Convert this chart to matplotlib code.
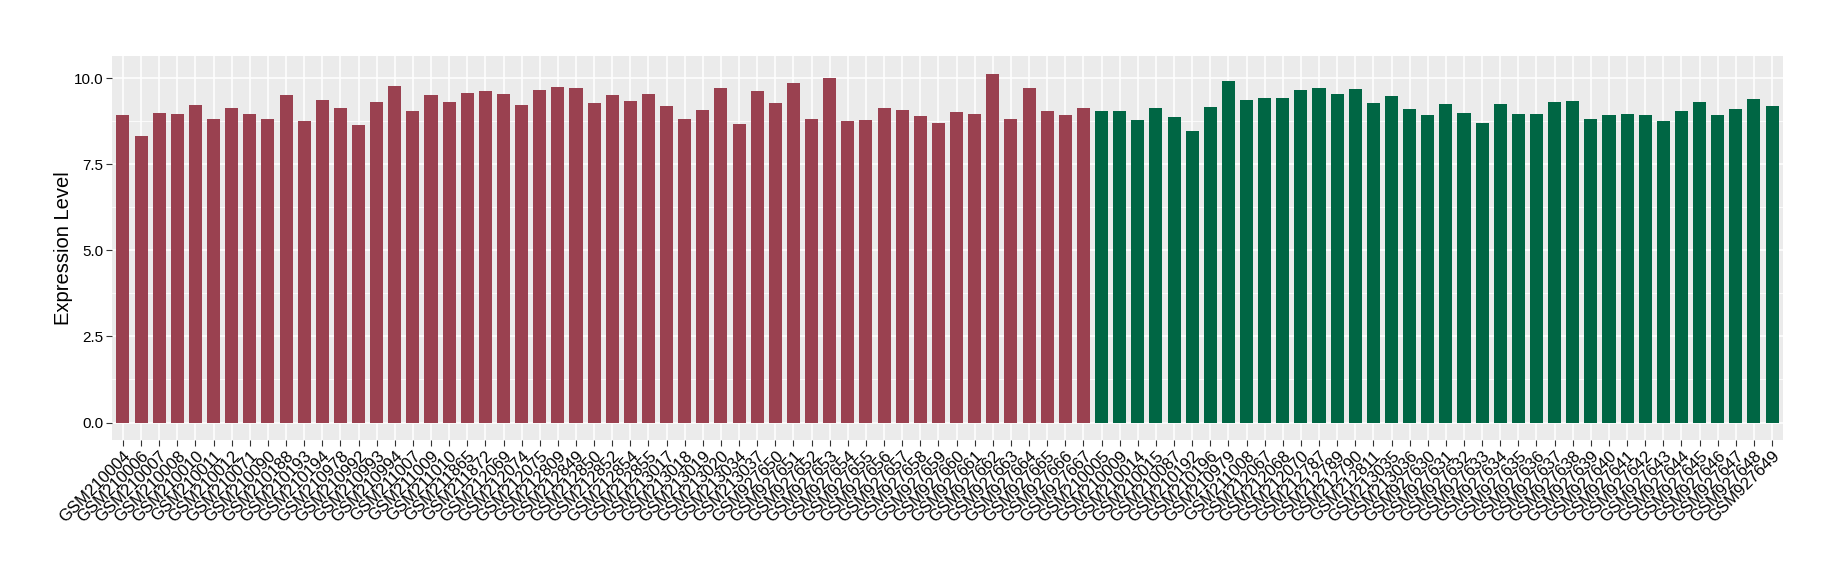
import matplotlib
matplotlib.use("Agg")
import matplotlib.pyplot as plt
import numpy as np

# 	Data

red_samples = ["GSM210004", "GSM210006", "GSM210007", "GSM210008", "GSM210010", "GSM210011",
               "GSM210012", "GSM210071", "GSM210090", "GSM210188", "GSM210193", "GSM210194",
               "GSM210978", "GSM210992", "GSM210993", "GSM210994", "GSM211007", "GSM211009",
               "GSM211010", "GSM211865", "GSM211872", "GSM212069", "GSM212074", "GSM212075",
               "GSM212809", "GSM212849", "GSM212850", "GSM212852", "GSM212854", "GSM212855",
               "GSM213017", "GSM213018", "GSM213019", "GSM213020", "GSM213034", "GSM213037",
               "GSM927650", "GSM927651", "GSM927652", "GSM927653", "GSM927654", "GSM927655",
               "GSM927656", "GSM927657", "GSM927658", "GSM927659", "GSM927660", "GSM927661",
               "GSM927662", "GSM927663", "GSM927664", "GSM927665", "GSM927666", "GSM927667"]
red_values = [8.94, 8.33, 8.99, 8.96, 9.23, 8.82, 9.14, 8.96, 8.82, 9.52, 8.76, 9.37,
              9.14, 8.64, 9.31, 9.78, 9.05, 9.52, 9.31, 9.57, 9.63, 9.55, 9.23, 9.66,
              9.75, 9.72, 9.28, 9.52, 9.34, 9.55, 9.20, 8.82, 9.08, 9.72, 8.67, 9.63,
              9.28, 9.86, 8.82, 10.01, 8.76, 8.79, 9.14, 9.08, 8.91, 8.70, 9.02, 8.96,
              10.13, 8.82, 9.72, 9.05, 8.94, 9.14]

green_samples = ["GSM210005", "GSM210009", "GSM210014", "GSM210015", "GSM210087", "GSM210192",
                 "GSM210196", "GSM210979", "GSM211008", "GSM212067", "GSM212068", "GSM212070",
                 "GSM212787", "GSM212789", "GSM212790", "GSM212811", "GSM213035", "GSM213036",
                 "GSM927630", "GSM927631", "GSM927632", "GSM927633", "GSM927634", "GSM927635",
                 "GSM927636", "GSM927637", "GSM927638", "GSM927639", "GSM927640", "GSM927641",
                 "GSM927642", "GSM927643", "GSM927644", "GSM927645", "GSM927646", "GSM927647",
                 "GSM927648", "GSM927649"]
green_values = [9.05, 9.05, 8.79, 9.14, 8.88, 8.47, 9.17, 9.92, 9.37, 9.43, 9.43, 9.66,
                9.72, 9.55, 9.69, 9.28, 9.49, 9.11, 8.94, 9.25, 8.99, 8.70, 9.25, 8.96,
                8.96, 9.31, 9.34, 8.82, 8.93, 8.96, 8.93, 8.75, 9.05, 9.31, 8.93, 9.10,
                9.38, 9.20]

red_color = "#9A4150"
green_color = "#006644"

# 	Plot

plt.rcParams['font.family'] = ['Liberation Sans', 'DejaVu Sans']

labels = red_samples + green_samples
values = red_values + green_values
colors = [red_color] * len(red_samples) + [green_color] * len(green_samples)
x = np.arange(len(labels))

fig = plt.figure(figsize=(18.4, 5.8), dpi=100)
ax = fig.add_axes([0.0609, 0.2414, 0.9081, 0.662])
ax.set_facecolor("#EBEBEB")

ax.bar(x, values, width=0.72, color=colors, zorder=3)

ax.set_xlim(-0.6, len(labels) - 0.4)
ax.set_ylim(-0.506, 10.64)
ax.set_yticks([0, 2.5, 5, 7.5, 10])
ax.set_yticklabels(["0.0", "2.5", "5.0", "7.5", "10.0"])
ax.set_yticks([1.25, 3.75, 6.25, 8.75], minor=True)
ax.set_xticks(x)
ax.set_xticklabels(labels, rotation=45, ha="right", va="top", rotation_mode="anchor", fontsize=12)

ax.grid(True, which="major", color="white", linewidth=1.1, zorder=0)
ax.grid(True, which="minor", axis="y", color="white", linewidth=0.55, zorder=0)
for s in ax.spines.values():
    s.set_visible(False)

ax.tick_params(axis="both", which="major", length=4, width=0.8, color="#333333",
               labelcolor="black", pad=2)
ax.tick_params(axis="y", which="major", labelsize=11)
ax.tick_params(axis="y", which="minor", length=0)

ax.set_ylabel("Expression Level", fontsize=14.5, labelpad=1)

plt.savefig("out.png", dpi=100)
